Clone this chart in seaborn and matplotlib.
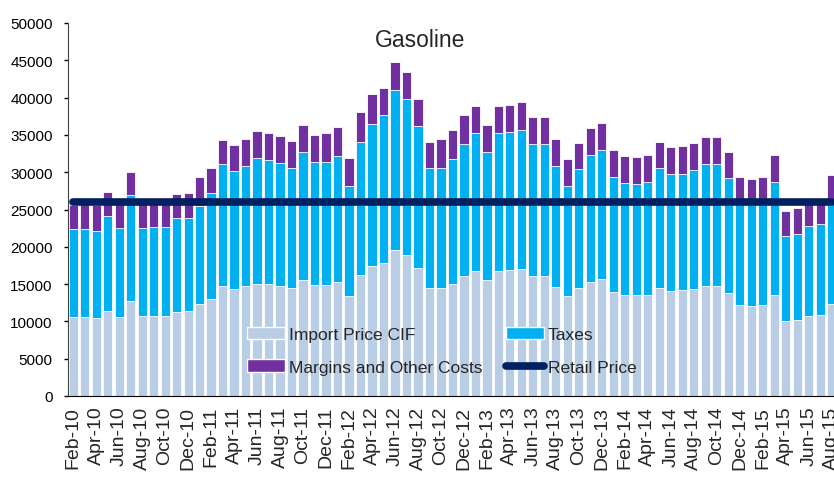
import matplotlib
matplotlib.use("Agg")
import matplotlib.pyplot as plt
import seaborn as sns
import numpy as np
import pandas as pd
from matplotlib.patches import Patch
from matplotlib.lines import Line2D

months = []
mnames = ["Jan", "Feb", "Mar", "Apr", "May", "Jun", "Jul", "Aug", "Sep", "Oct", "Nov", "Dec"]
for y in range(10, 16):
    for m in mnames:
        months.append(f"{m}-{y}")
months = months[1:months.index("Aug-15") + 1]

import_price = [10640, 10640, 10450, 11390, 10640, 12730, 10720, 10720, 10750, 11260, 11350, 12380,
                12960, 14700, 14340, 14700, 15080, 14970, 14790, 14470, 15500, 14870, 14870, 15330,
                13360, 16210, 17380, 17870, 19520, 18890, 17200, 14470, 14470, 15060, 16040, 16710,
                15540, 16750, 16840, 16980, 16040, 16040, 14610, 13360, 14430, 15330, 15730, 13900,
                13590, 13490, 13590, 14430, 14120, 14210, 14390, 14790, 14790, 13860, 12250, 12110,
                12250, 13590, 10100, 10240, 10720, 10850, 12380]
taxes = [11790, 11790, 11660, 12730, 11870, 14160, 11790, 11880, 11950, 12550, 12550, 13080,
         14290, 16350, 15770, 16120, 16770, 16610, 16390, 16130, 17150, 16440, 16440, 16880,
         14740, 17830, 19120, 19740, 21480, 20870, 18980, 16080, 16080, 16700, 17730, 18490,
         17160, 18540, 18540, 18720, 17730, 17730, 16210, 14830, 15990, 17020, 17230, 15400,
         15010, 14970, 15140, 16080, 15680, 15590, 15940, 16350, 16350, 15350, 13650, 13690,
         13650, 15050, 11300, 11430, 12020, 12200, 13420]
margins = [3220, 3270, 3490, 3220, 3190, 3180, 3190, 3100, 3000, 3220, 3260, 3840,
           3260, 3310, 3580, 3620, 3620, 3620, 3620, 3620, 3620, 3660, 3890, 3890,
           3840, 4020, 4020, 3710, 3760, 3710, 3670, 3540, 3850, 3940, 3930, 3660,
           3610, 3620, 3620, 3660, 3670, 3670, 3580, 3570, 3530, 3620, 3680, 3620,
           3560, 3570, 3570, 3580, 3530, 3660, 3530, 3620, 3620, 3540, 3400, 3240,
           3500, 3610, 3440, 3480, 3060, 3250, 3770]
retail_price = [26000] * len(months)

labels = ["Import Price CIF", "Taxes", "Margins and Other Costs", "Retail Price"]
c_imp, c_tax, c_mar, c_ret = "#B9CDE5", "#00B0F0", "#7030A0", "#002060"

df = pd.DataFrame({"month": months, "imp": import_price, "tax": taxes, "mar": margins,
                   "ret": retail_price})
df["top_tax"] = df["imp"] + df["tax"]
df["total"] = df["top_tax"] + df["mar"]
df["pos"] = np.arange(len(df))

sns.set_style("white")
plt.rcParams["font.family"] = ["Liberation Sans", "DejaVu Sans"]

fig = plt.figure(figsize=(8.34, 4.81), dpi=100)
ax = fig.add_axes([68 / 834, (481 - 397) / 481, (834 - 68) / 834, (397 - 24) / 481])

for col, color in [("total", c_mar), ("top_tax", c_tax), ("imp", c_imp)]:
    sns.barplot(data=df, x="month", y=col, color=color, order=months, width=0.8,
                saturation=1, edgecolor="white", linewidth=0.6, ax=ax, errorbar=None)

sns.lineplot(data=df, x="pos", y="ret", color=c_ret, linewidth=5.5, ax=ax,
             solid_capstyle="round")

ax.set_xlim(-0.45, 66.2)
ax.set_ylim(0, 50000)
ax.set_yticks(np.arange(0, 50001, 5000))
ax.set_yticklabels([str(v) for v in range(0, 50001, 5000)], fontsize=11)
ax.set_xticks(np.arange(0, len(months), 2))
ax.set_xticklabels(months[::2], rotation=90, fontsize=14)
ax.set_xlabel("")
ax.set_ylabel("")
ax.tick_params(axis="y", length=3, width=1, direction="out", left=True, pad=8, colors="black")
ax.tick_params(axis="x", length=0, pad=7)
sns.despine(ax=ax)
ax.spines["left"].set_color("#404040")
ax.spines["bottom"].set_color("black")

ax.text(0.459, 0.955, "Gasoline", transform=ax.transAxes, fontsize=16.5,
        ha="center", va="center")

handles = [Patch(facecolor=c_imp, label=labels[0]),
           Patch(facecolor=c_mar, label=labels[2]),
           Patch(facecolor=c_tax, label=labels[1]),
           Line2D([0], [0], color=c_ret, lw=5.5, solid_capstyle="round", label=labels[3])]
leg = fig.legend(handles=handles, loc="upper left", bbox_to_anchor=(247 / 834, 1 - 328 / 481),
                 ncol=2, frameon=False, fontsize=12.5,
                 handlelength=2.2, handleheight=0.69, borderpad=0, borderaxespad=0,
                 columnspacing=1.32, handletextpad=0.23, labelspacing=1.0)

fig.savefig("out.png", dpi=100)
